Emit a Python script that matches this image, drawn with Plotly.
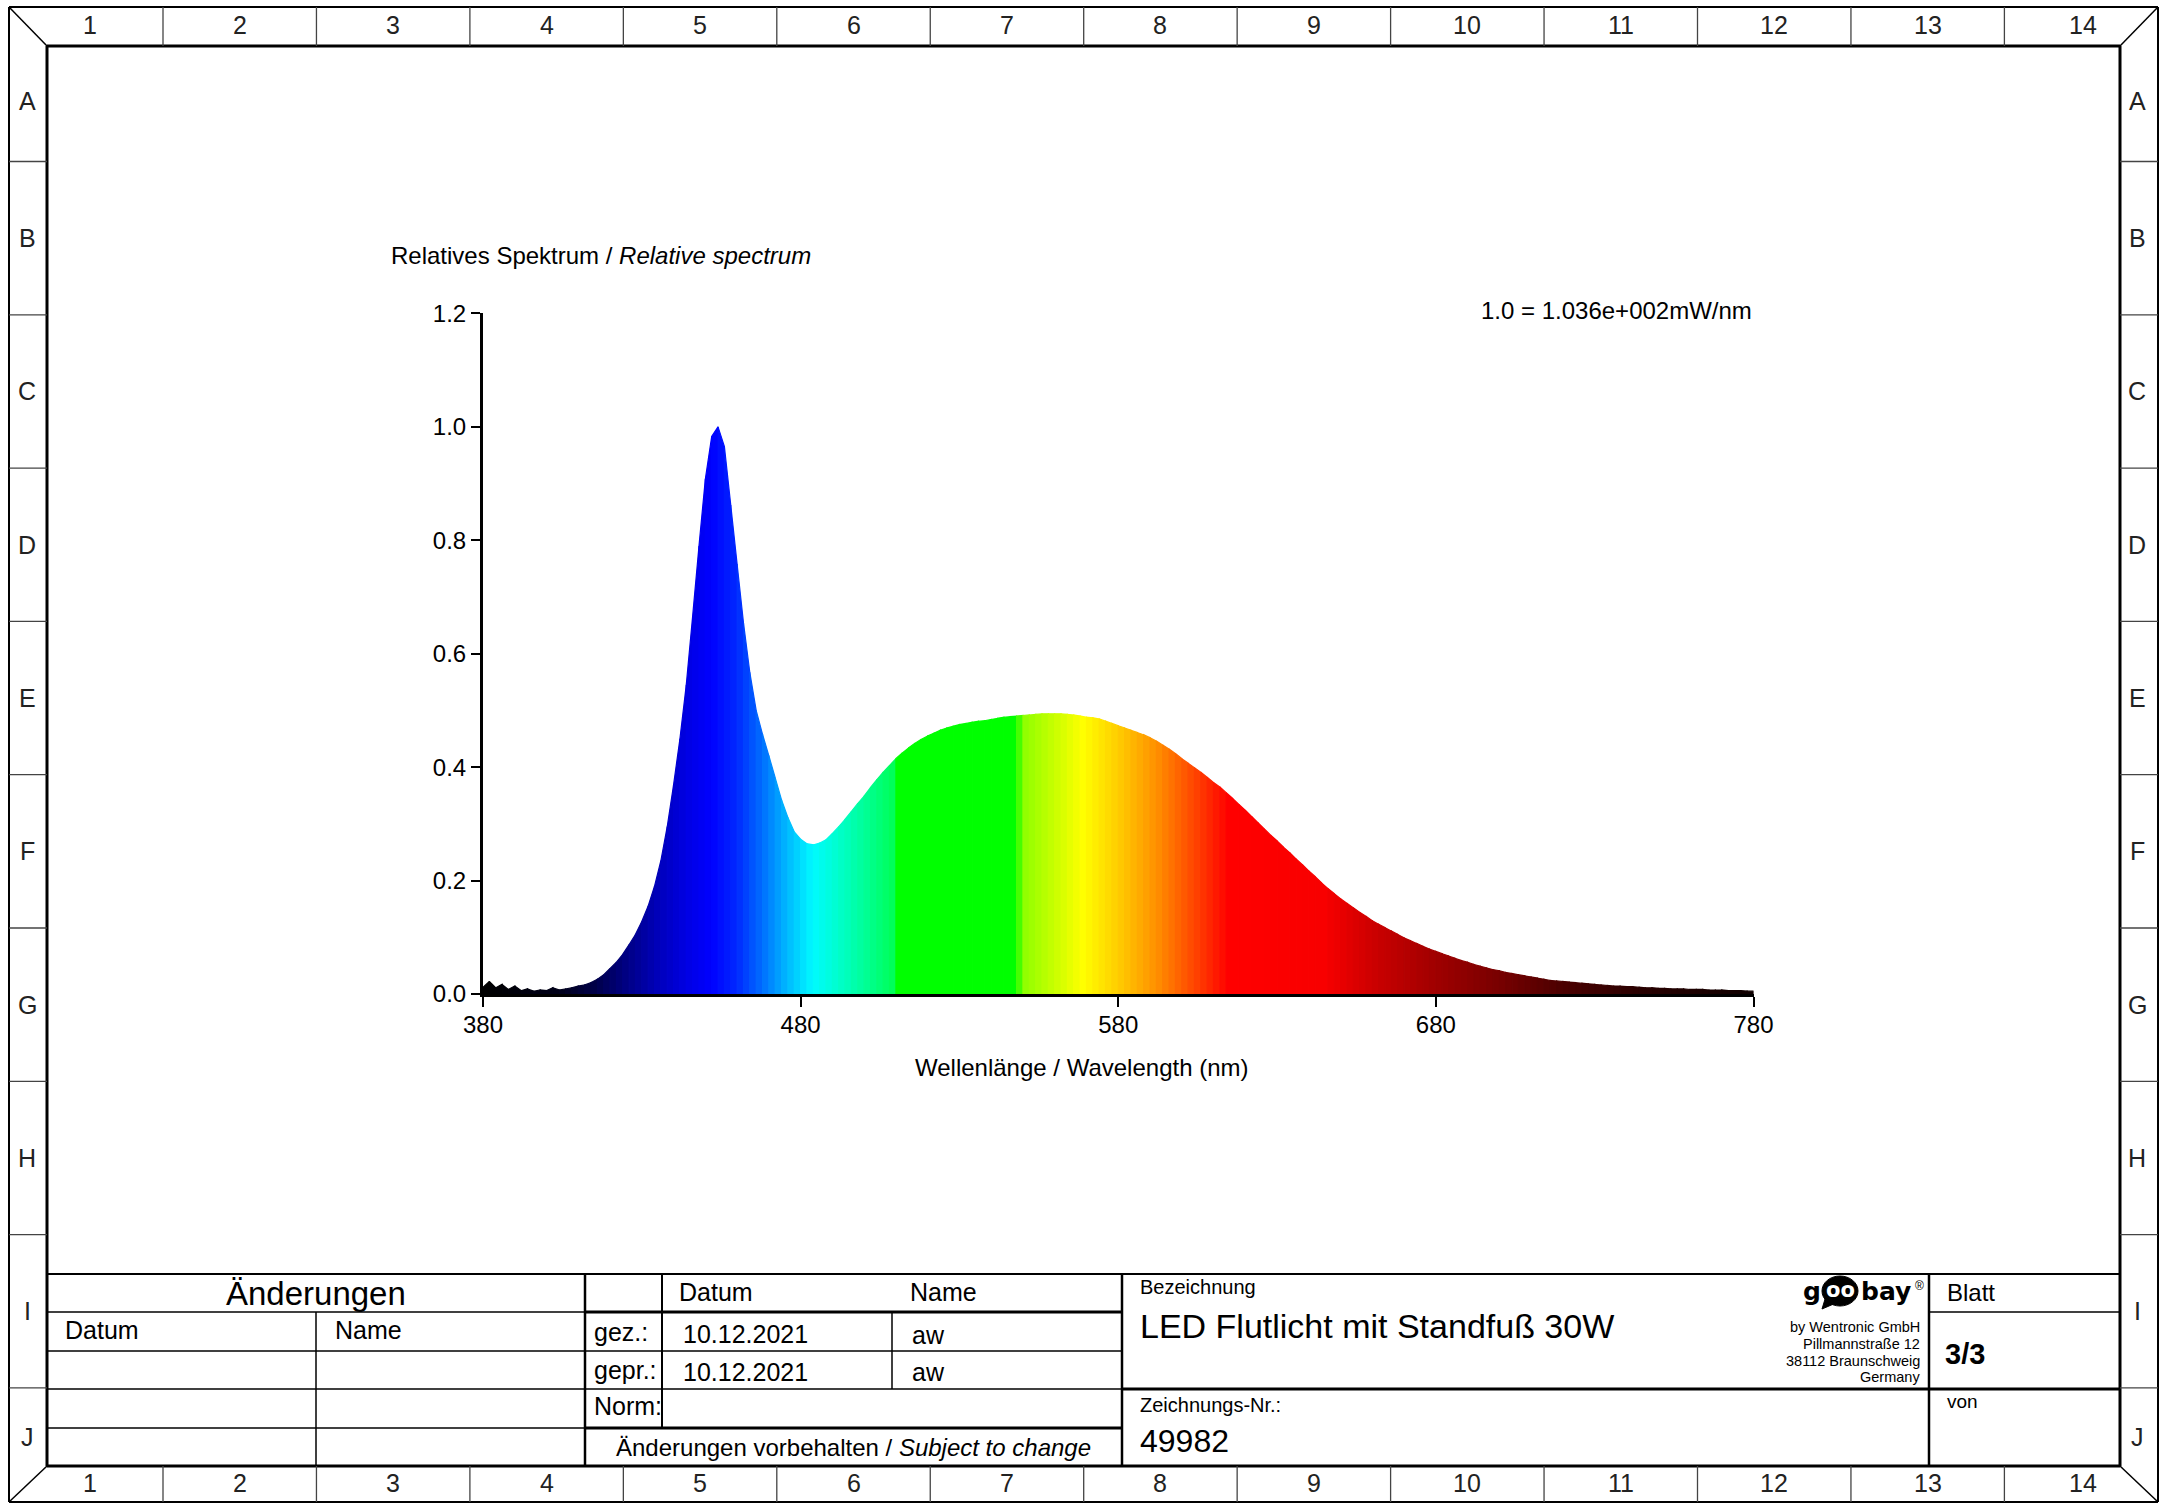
import plotly.graph_objects as go

# ---------------- data ----------------
wavelength_nm = list(range(380, 781, 2))
relative_spectrum = [
    # 380-410
    0.012, 0.022, 0.011, 0.017, 0.008, 0.014, 0.006, 0.009, 0.005, 0.007, 0.006, 0.011, 0.007, 0.009, 0.011, 0.014,
    # 412-440
    0.016, 0.020, 0.026, 0.034, 0.045, 0.056, 0.070, 0.087, 0.105, 0.128, 0.155, 0.190, 0.235, 0.295, 0.369,
    # 442-480
    0.450, 0.545, 0.666, 0.790, 0.908, 0.983, 1.000, 0.965, 0.862, 0.758, 0.655, 0.567, 0.500, 0.458, 0.420, 0.381, 0.342, 0.311, 0.286, 0.273,
    # 482-520
    0.265, 0.263, 0.266, 0.272, 0.283, 0.295, 0.308, 0.322, 0.336, 0.349, 0.364, 0.378, 0.391, 0.403, 0.415, 0.425, 0.434, 0.442, 0.449, 0.455,
    # 522-560
    0.460, 0.465, 0.469, 0.472, 0.475, 0.477, 0.479, 0.481, 0.482, 0.484, 0.486, 0.488, 0.489, 0.490, 0.491, 0.492, 0.493, 0.494, 0.494, 0.494,
    # 562-600
    0.494, 0.493, 0.492, 0.490, 0.488, 0.487, 0.485, 0.481, 0.477, 0.473, 0.469, 0.465, 0.461, 0.457, 0.452, 0.446, 0.439, 0.432, 0.424, 0.415,
    # 602-640
    0.407, 0.399, 0.391, 0.382, 0.373, 0.365, 0.355, 0.345, 0.334, 0.324, 0.313, 0.302, 0.291, 0.280, 0.270, 0.259, 0.249, 0.238, 0.228, 0.217,
    # 642-680
    0.207, 0.196, 0.186, 0.177, 0.168, 0.160, 0.152, 0.144, 0.137, 0.129, 0.123, 0.117, 0.111, 0.105, 0.099, 0.094, 0.089, 0.084, 0.079, 0.075,
    # 682-720
    0.071, 0.067, 0.063, 0.059, 0.056, 0.052, 0.049, 0.046, 0.043, 0.041, 0.038, 0.036, 0.034, 0.032, 0.030, 0.028, 0.026, 0.024, 0.023, 0.022,
    # 722-760
    0.021, 0.020, 0.019, 0.018, 0.017, 0.016, 0.015, 0.014, 0.014, 0.013, 0.013, 0.012, 0.011, 0.011, 0.010, 0.010, 0.009, 0.009, 0.009, 0.008,
    # 762-780
    0.008, 0.008, 0.007, 0.007, 0.007, 0.006, 0.006, 0.006, 0.005, 0.005,
]
assert len(wavelength_nm) == len(relative_spectrum)

x_ticks = [380, 480, 580, 680, 780]
y_ticks = [0.0, 0.2, 0.4, 0.6, 0.8, 1.0, 1.2]
column_labels = [str(i) for i in range(1, 15)]
row_labels = list("ABCDEFGHIJ")

# ---------------- style ----------------
W, H = 2165, 1504
FONT = "Liberation Sans, Arial, sans-serif"

COLOR_STOPS = [
    (380, (0, 0, 0)), (404, (0, 0, 25)), (415, (0, 0, 70)), (425, (0, 0, 130)),
    (435, (0, 0, 185)), (445, (0, 0, 230)), (452, (0, 0, 255)), (460, (0, 40, 255)),
    (468, (0, 110, 255)), (476, (0, 185, 255)), (484, (0, 250, 255)), (492, (0, 255, 205)),
    (502, (0, 255, 140)), (509, (0, 255, 90)), (511, (0, 255, 0)), (548, (0, 255, 0)),
    (550, (140, 255, 0)), (560, (200, 255, 0)), (569, (255, 255, 0)), (580, (255, 205, 0)),
    (592, (255, 145, 0)), (604, (255, 70, 0)), (615, (255, 0, 0)), (645, (248, 0, 0)),
    (660, (205, 0, 0)), (680, (160, 0, 0)), (700, (120, 0, 0)), (720, (75, 0, 0)),
    (745, (40, 0, 0)), (780, (15, 0, 0)),
]


def wl_color(w):
    for (w0, c0), (w1, c1) in zip(COLOR_STOPS[:-1], COLOR_STOPS[1:]):
        if w0 <= w <= w1:
            t = (w - w0) / (w1 - w0)
            c = [round(a + (b - a) * t) for a, b in zip(c0, c1)]
            return "rgb(%d,%d,%d)" % tuple(c)
    return "rgb(0,0,0)"


def px(x):
    return x / W


def py(y):
    return 1 - y / H


fig = go.Figure()

# spectrum: one filled segment per pair of neighbouring samples
for i in range(len(wavelength_nm) - 1):
    x0, x1 = wavelength_nm[i], wavelength_nm[i + 1]
    y0, y1 = relative_spectrum[i], relative_spectrum[i + 1]
    c = wl_color((x0 + x1) / 2)
    fig.add_trace(go.Scatter(
        x=[x0, x0, x1, x1, x0], y=[0, y0, y1, 0, 0],
        mode="lines", fill="toself", fillcolor=c,
        line=dict(color=c, width=1.2), hoverinfo="skip", showlegend=False,
    ))

shapes = []


def line(x0, y0, x1, y1, w=1.5, color="black"):
    shapes.append(dict(type="line", xref="paper", yref="paper",
                       x0=px(x0), y0=py(y0), x1=px(x1), y1=py(y1),
                       line=dict(color=color, width=w)))


# outer and inner frames
OL, OT, OR, OB = 9, 7, 2158, 1502
IL, IT, IR, IB = 47, 46, 2120, 1466
line(OL, OT, OR, OT, 2); line(OL, OB, OR, OB, 2)
line(OL, OT, OL, OB, 2); line(OR, OT, OR, OB, 2)
line(IL, IT, IR, IT, 3); line(IL, IB, IR, IB, 3)
line(IL, IT, IL, IB, 3); line(IR, IT, IR, IB, 3)
line(OL, OT, IL, IT, 1.5); line(OR, OT, IR, IT, 1.5)
line(OL, OB, IL, IB, 1.5); line(OR, OB, IR, IB, 1.5)

# ruler divisions
COLW = 153.45
col_div = [163 + COLW * k for k in range(13)]
for xd in col_div:
    line(xd, OT, xd, IT, 1.3, "#444")
    line(xd, IB, xd, OB, 1.3, "#444")
ROWH = 153.3
row_div = [161.5 + ROWH * k for k in range(9)]
for yd in row_div:
    line(OL, yd, IL, yd, 1.3, "#444")
    line(IR, yd, OR, yd, 1.3, "#444")

# title block
line(IL, 1274, IR, 1274, 2)
line(IL, 1312, 585, 1312, 1.5); line(585, 1312, 1122, 1312, 3); line(1929, 1312, IR, 1312, 1.5)
line(IL, 1351, 585, 1351, 1.5); line(585, 1351, 1122, 1351, 1.5)
line(IL, 1389, 585, 1389, 1.5); line(585, 1389, 1122, 1389, 1.5); line(1122, 1389, IR, 1389, 3)
line(IL, 1428, 585, 1428, 1.5); line(585, 1428, 1122, 1428, 3)
line(316, 1312, 316, IB, 1.5)
line(585, 1274, 585, IB, 2.5)
line(662, 1274, 662, 1428, 2)
line(892, 1312, 892, 1389, 1.5)
line(1122, 1274, 1122, IB, 2.5)
line(1929, 1274, 1929, IB, 2.5)

# goobay bubble
shapes.append(dict(type="circle", xref="paper", yref="paper",
                   x0=px(1822), x1=px(1858), y0=py(1276), y1=py(1306),
                   fillcolor="black", line=dict(color="black", width=1)))
shapes.append(dict(type="path", xref="paper", yref="paper",
                   path="M %f,%f L %f,%f L %f,%f Z" % (px(1826), py(1296), px(1822), py(1309), px(1836), py(1303)),
                   fillcolor="black", line=dict(color="black", width=1)))

ann = []


def text(x, y, s, size, anchor="left", family=FONT, color="black", bold=False):
    if bold:
        s = "<b>" + s + "</b>"
    ann.append(dict(x=px(x), y=py(y), xref="paper", yref="paper", text=s, showarrow=False,
                    xanchor=anchor, yanchor="middle", font=dict(size=size, family=family, color=color)))


# ruler labels
col_centers = [90] + [163 + COLW * (n - 1.5) for n in range(2, 14)] + [2083]
for lab, cx in zip(column_labels, col_centers):
    text(cx, 25, lab, 25, "center", color="#222")
    text(cx, 1483, lab, 25, "center", color="#222")
row_centers = [101] + [161.5 + ROWH * (n - 1.5) for n in range(2, 10)] + [1437]
for lab, cy in zip(row_labels, row_centers):
    text(27, cy, lab, 25, "center", color="#222")
    text(2137, cy, lab, 25, "center", color="#222")

# chart texts
text(389, 255, "Relatives Spektrum / <i>Relative spectrum</i>", 24)
text(1754, 311, "1.0 = 1.036e+002mW/nm", 24, "right")
text(1082, 1067, "Wellenlänge / Wavelength (nm)", 24, "center")

# title block texts
text(316, 1293, "Änderungen", 33, "center")
text(63, 1330, "Datum", 25)
text(333, 1330, "Name", 25)
text(677, 1292, "Datum", 25)
text(908, 1292, "Name", 25)
text(592, 1332, "gez.:", 25)
text(681, 1334, "10.12.2021", 25)
text(910, 1335, "aw", 25)
text(592, 1370, "gepr.:", 25)
text(681, 1372, "10.12.2021", 25)
text(910, 1372, "aw", 25)
text(592, 1406, "Norm:", 25)
text(853, 1447, "Änderungen vorbehalten / <i>Subject to change</i>", 24, "center")
text(1138, 1287, "Bezeichnung", 20)
text(1138, 1326, "LED Flutlicht mit Standfuß 30W", 34)
text(1138, 1405, "Zeichnungs-Nr.:", 20)
text(1138, 1441, "49982", 32)
text(1945, 1292, "Blatt", 24)
text(1943, 1354, "3/3", 29, bold=True)
text(1945, 1401, "von", 19)

# logo + address
text(1823, 1291, "g", 25, "right", "DejaVu Sans", bold=True)
text(1840, 1290, "oo", 21, "center", "DejaVu Sans", "white", bold=True)
text(1859, 1291, "bay", 25, "left", "DejaVu Sans", bold=True)
text(1913, 1286, "®", 12, "left")
for s, yy in [("by Wentronic GmbH", 1327), ("Pillmannstraße 12", 1344),
              ("38112 Braunschweig", 1361), ("Germany", 1377)]:
    text(1922, yy, s, 14.5, "right")

fig.update_layout(
    width=W, height=H, margin=dict(l=0, r=0, t=0, b=0, pad=0, autoexpand=False),
    paper_bgcolor="white", plot_bgcolor="white",
    shapes=shapes, annotations=ann, showlegend=False,
    xaxis=dict(domain=[px(483), px(1753.5)], range=[380, 780], tickvals=x_ticks,
               ticks="outside", ticklen=10, tickwidth=2, tickcolor="black",
               showline=True, linewidth=3, linecolor="black", mirror=False,
               showgrid=False, zeroline=False, fixedrange=True, automargin=False,
               ticklabelstandoff=-3,
               tickfont=dict(family=FONT, size=24, color="black")),
    yaxis=dict(domain=[py(994), py(313.4)], range=[0, 1.2], tickvals=y_ticks, tickformat=".1f",
               ticks="outside", ticklen=9, tickwidth=2, tickcolor="black",
               showline=True, linewidth=3, linecolor="black",
               showgrid=False, zeroline=False, fixedrange=True, automargin=False,
               tickfont=dict(family=FONT, size=24, color="black")),
)

fig.write_html("out.html", config={"displayModeBar": False},
               post_script="document.body.style.margin='0';document.body.style.overflow='hidden';")
